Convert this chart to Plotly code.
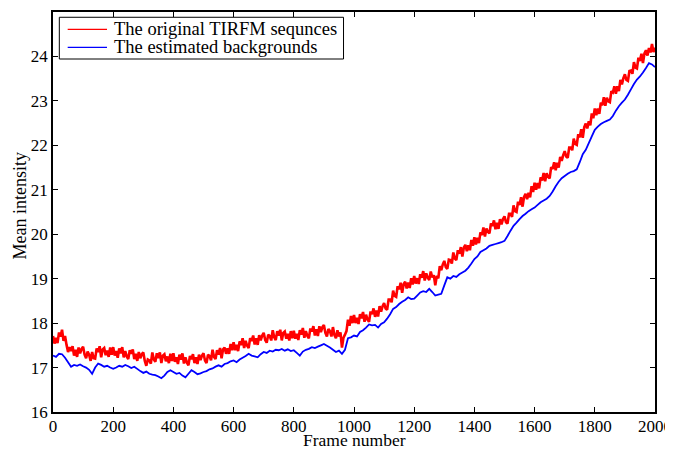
import plotly.graph_objects as go

# Frame numbers (sampled)
red_frames = list(range(0, 2001, 5))
blue_frames = list(range(0, 2001, 10))

# The original TIRFM sequences (mean intensity, read every 5 frames)
red_values = [
    17.71, 17.54, 17.67, 17.55, 17.79, 17.70, 17.85, 17.60, 17.71, 17.51,
    17.35, 17.46, 17.37, 17.48, 17.27, 17.40, 17.24, 17.45, 17.32, 17.42,
    17.47, 17.29, 17.21, 17.36, 17.29, 17.15, 17.35, 17.21, 17.20, 17.43,
    17.35, 17.48, 17.23, 17.41, 17.44, 17.28, 17.38, 17.24, 17.45, 17.29,
    17.46, 17.27, 17.37, 17.22, 17.43, 17.32, 17.46, 17.23, 17.37, 17.25,
    17.19, 17.39, 17.31, 17.41, 17.19, 17.31, 17.15, 17.35, 17.21, 17.30,
    17.34, 17.15, 17.04, 17.18, 17.16, 17.09, 17.34, 17.18, 17.13, 17.32,
    17.21, 17.34, 17.10, 17.27, 17.30, 17.14, 17.25, 17.10, 17.31, 17.15,
    17.32, 17.13, 17.23, 17.08, 17.29, 17.18, 17.32, 17.09, 17.23, 17.11,
    17.05, 17.26, 17.19, 17.30, 17.10, 17.23, 17.08, 17.29, 17.17, 17.27,
    17.32, 17.16, 17.10, 17.29, 17.26, 17.16, 17.40, 17.24, 17.19, 17.39,
    17.29, 17.44, 17.21, 17.41, 17.45, 17.31, 17.43, 17.31, 17.53, 17.39,
    17.57, 17.39, 17.51, 17.37, 17.59, 17.51, 17.66, 17.44, 17.60, 17.49,
    17.44, 17.66, 17.60, 17.72, 17.52, 17.66, 17.51, 17.73, 17.61, 17.72,
    17.78, 17.62, 17.56, 17.74, 17.71, 17.61, 17.84, 17.68, 17.62, 17.82,
    17.72, 17.85, 17.61, 17.78, 17.81, 17.65, 17.76, 17.61, 17.82, 17.66,
    17.83, 17.65, 17.76, 17.62, 17.84, 17.74, 17.89, 17.67, 17.82, 17.71,
    17.66, 17.88, 17.81, 17.93, 17.72, 17.86, 17.71, 17.93, 17.80, 17.91,
    17.96, 17.78, 17.70, 17.87, 17.82, 17.70, 17.91, 17.73, 17.66, 17.84,
    17.70, 17.79, 17.45, 17.67, 17.74, 17.82, 18.08, 17.94, 18.16, 18.00,
    18.18, 18.00, 18.12, 17.98, 18.20, 18.11, 18.25, 18.03, 18.19, 18.08,
    18.03, 18.26, 18.20, 18.33, 18.14, 18.28, 18.15, 18.38, 18.26, 18.38,
    18.45, 18.33, 18.30, 18.53, 18.53, 18.47, 18.73, 18.61, 18.59, 18.83,
    18.76, 18.91, 18.68, 18.88, 18.93, 18.78, 18.91, 18.79, 19.01, 18.87,
    19.06, 18.89, 19.01, 18.88, 19.10, 19.02, 19.17, 18.96, 19.12, 19.02,
    18.97, 19.16, 19.03, 19.08, 18.85, 19.06, 19.01, 19.28, 19.19, 19.32,
    19.40, 19.26, 19.22, 19.43, 19.42, 19.34, 19.59, 19.45, 19.42, 19.64,
    19.56, 19.71, 19.50, 19.70, 19.76, 19.62, 19.75, 19.64, 19.87, 19.74,
    19.93, 19.77, 19.92, 19.80, 20.04, 19.98, 20.15, 19.95, 20.13, 20.05,
    20.02, 20.24, 20.19, 20.31, 20.11, 20.26, 20.12, 20.34, 20.22, 20.34,
    20.40, 20.27, 20.24, 20.46, 20.46, 20.39, 20.65, 20.52, 20.50, 20.73,
    20.66, 20.83, 20.62, 20.84, 20.91, 20.79, 20.93, 20.83, 21.08, 20.95,
    21.16, 21.00, 21.15, 21.03, 21.28, 21.21, 21.38, 21.19, 21.37, 21.29,
    21.26, 21.51, 21.47, 21.62, 21.44, 21.61, 21.50, 21.74, 21.65, 21.78,
    21.87, 21.75, 21.72, 21.95, 21.95, 21.89, 22.15, 22.03, 22.01, 22.25,
    22.18, 22.36, 22.17, 22.41, 22.49, 22.38, 22.54, 22.45, 22.72, 22.61,
    22.83, 22.68, 22.83, 22.71, 22.96, 22.90, 23.08, 22.89, 23.07, 22.99,
    22.97, 23.22, 23.19, 23.33, 23.16, 23.33, 23.22, 23.47, 23.37, 23.51,
    23.60, 23.47, 23.45, 23.67, 23.68, 23.61, 23.87, 23.75, 23.73, 23.97,
    23.90, 24.06, 23.85, 24.07, 24.14, 24.02, 24.19, 24.09, 24.28, 24.10,
    24.20,
]

# The estimated backgrounds (read every 10 frames)
blue_values = [
    17.27, 17.24, 17.31, 17.30, 17.22, 17.12, 17.02, 17.06, 17.04, 17.07,
    17.03, 17.00, 16.95, 16.86, 17.00, 17.09, 17.06, 17.02, 17.04, 17.00,
    16.97, 17.00, 17.04, 17.02, 17.06, 17.03, 16.99, 17.02, 16.97, 16.92,
    16.88, 16.91, 16.86, 16.84, 16.83, 16.80, 16.76, 16.82, 16.90, 16.94,
    16.90, 16.86, 16.88, 16.82, 16.78, 16.86, 16.94, 16.90, 16.85, 16.87,
    16.90, 16.92, 16.96, 16.98, 17.02, 17.05, 17.02, 17.08, 17.10, 17.14,
    17.16, 17.12, 17.18, 17.22, 17.26, 17.31, 17.27, 17.25, 17.23, 17.30,
    17.35, 17.33, 17.38, 17.36, 17.40, 17.39, 17.42, 17.38, 17.41, 17.37,
    17.39, 17.33, 17.27, 17.36, 17.40, 17.42, 17.46, 17.44, 17.47, 17.50,
    17.53, 17.49, 17.45, 17.40, 17.35, 17.38, 17.31, 17.40, 17.66, 17.68,
    17.72, 17.70, 17.80, 17.84, 17.90, 17.97, 17.95, 17.96, 17.90, 17.98,
    18.02, 18.10, 18.20, 18.32, 18.36, 18.43, 18.48, 18.52, 18.58, 18.54,
    18.55, 18.62, 18.69, 18.72, 18.70, 18.77, 18.70, 18.62, 18.64, 18.66,
    18.85, 19.03, 19.00, 19.06, 19.04, 19.10, 19.14, 19.18, 19.25, 19.34,
    19.44, 19.50, 19.60, 19.64, 19.68, 19.74, 19.76, 19.78, 19.80, 19.82,
    19.85, 19.96, 20.08, 20.19, 20.26, 20.34, 20.41, 20.46, 20.52, 20.56,
    20.60, 20.66, 20.72, 20.76, 20.80, 20.86, 20.96, 21.08, 21.18, 21.26,
    21.31, 21.36, 21.40, 21.42, 21.46, 21.62, 21.80, 21.90, 22.05, 22.20,
    22.35, 22.42, 22.48, 22.52, 22.55, 22.58, 22.66, 22.78, 22.88, 22.96,
    23.03, 23.14, 23.26, 23.38, 23.48, 23.55, 23.64, 23.74, 23.85, 23.82,
    23.76,
]

series_names = ["The original TIRFM sequnces", "The estimated backgrounds"]
series_colors = ["#ff0000", "#0000ff"]

x_ticks = [0, 200, 400, 600, 800, 1000, 1200, 1400, 1600, 1800, 2000]
y_ticks = [16, 17, 18, 19, 20, 21, 22, 23, 24, 25]

FONT = "Liberation Serif, Times New Roman, serif"

fig = go.Figure()
fig.add_trace(go.Scatter(
    x=red_frames, y=red_values, mode="lines", name=series_names[0],
    line=dict(color=series_colors[0], width=2.6, simplify=False),
    showlegend=False,
))
fig.add_trace(go.Scatter(
    x=blue_frames, y=blue_values, mode="lines", name=series_names[1],
    line=dict(color=series_colors[1], width=1.8, simplify=False),
    showlegend=False,
))

axis_common = dict(
    showline=True, linecolor="black", linewidth=1.5, mirror="ticks",
    ticks="inside", ticklen=5, tickwidth=1, tickcolor="black",
    showgrid=False, zeroline=False, automargin=False,
    tickfont=dict(family=FONT, size=17, color="black"),
)

# MATLAB-style boxed legend (box, line samples, labels)
legend_shapes = [
    dict(type="rect", xref="paper", yref="paper",
         x0=0.0105, x1=0.4826, y0=0.8825, y1=0.9868,
         line=dict(color="black", width=1), fillcolor="white", layer="above"),
]
legend_rows = [0.9568, 0.9118]
legend_annotations = []
for name, color, yrow in zip(series_names, series_colors, legend_rows):
    legend_shapes.append(dict(
        type="line", xref="paper", yref="paper",
        x0=0.0244, x1=0.0897, y0=yrow, y1=yrow,
        line=dict(color=color, width=1.2), layer="above"))
    legend_annotations.append(dict(
        text=name, xref="paper", yref="paper", x=0.0985, y=yrow,
        xanchor="left", yanchor="middle", showarrow=False,
        font=dict(family=FONT, size=18.5, color="black")))

fig.update_layout(
    width=665, height=443,
    margin=dict(l=45, r=18, t=4, b=39),
    paper_bgcolor="white", plot_bgcolor="white",
    font=dict(family=FONT, size=17, color="black"),
    xaxis=dict(range=[0, 2000], tickvals=x_ticks, ticklabelstandoff=-2,
               **axis_common),
    yaxis=dict(range=[16, 25], tickvals=y_ticks, **axis_common),
    showlegend=False,
    shapes=legend_shapes,
    annotations=legend_annotations + [
        dict(text="Frame number", xref="paper", yref="paper",
             x=0.5, y=-0.071, xanchor="center", yanchor="middle",
             showarrow=False, font=dict(family=FONT, size=17.5, color="black")),
        dict(text="Mean intensity", xref="paper", yref="paper",
             x=-0.0556, y=0.515, xanchor="center", yanchor="middle",
             textangle=-90, showarrow=False,
             font=dict(family=FONT, size=18, color="black")),
    ],
)

fig.write_html("out.html")
